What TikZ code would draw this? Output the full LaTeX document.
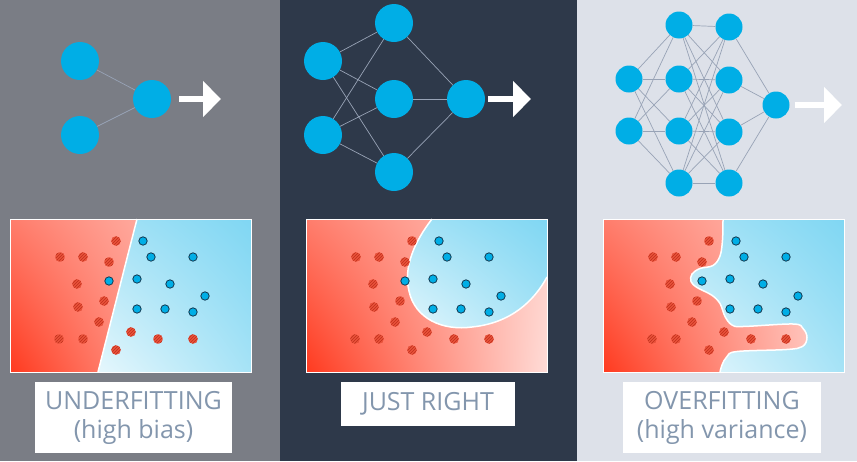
\documentclass[tikz,border=0pt]{standalone}
\usepackage{fontspec}
\setmainfont{Open Sans}
\usetikzlibrary{arrows.meta,patterns,shadings}

\definecolor{fondouno}{HTML}{7A7D85}
\definecolor{fondodos}{HTML}{2E394A}
\definecolor{fondotres}{HTML}{DDE1E9}
\definecolor{celeste}{HTML}{00AEE6}
\definecolor{gris}{HTML}{98A3B6}
\definecolor{rojopunto}{HTML}{EA523B}
\definecolor{rayas}{HTML}{BE301C}
\definecolor{bordeazul}{HTML}{123A52}
\definecolor{texto}{HTML}{8396AD}
\definecolor{rojoa}{HTML}{FF3A1F}
\definecolor{rojob}{HTML}{FF7D6C}
\definecolor{rojoc}{HTML}{FFDCD7}
\definecolor{rojod}{HTML}{FFCFC8}

% Datos de los puntos (relativos a cada recuadro)
\newcommand{\puntosrojos}{106/22, 50/38, 73/38, 99/43, 67/65, 94/82, 68/88, 89/103,
  49/120, 73/120, 121/113, 148/120, 183/120, 106/131}
\newcommand{\puntosazules}{133/22, 141/38, 183/38, 99/62, 127/60, 160/65, 195/77,
  127/90, 155/90, 183/93}
\newcommand{\dibujarpuntos}{%
  \foreach \x/\y in \puntosrojos {
    \fill[rojopunto] (\x,\y) circle (4.8pt);
    \fill[pattern=north east lines, pattern color=rayas] (\x,\y) circle (4.8pt);
  }
  \foreach \x/\y in \puntosazules
    \filldraw[fill=celeste, draw=bordeazul, line width=0.8pt] (\x,\y) circle (4.2pt);
}

\begin{document}
\begin{tikzpicture}[x=1pt,y=-1pt,
% Estilo de las neuronas
neurona/.style={circle, inner sep=0pt, minimum size=38pt, fill=celeste},
neuronachica/.style={neurona, minimum size=27pt},
% Estilo de las conexiones
conexion/.style={draw=gris, line width=0.7pt},
% Estilo de la flecha de salida
salida/.style={-{Triangle[length=18pt,width=35pt]}, line width=6pt, white},
% Estilo de los fondos de los recuadros
zonaroja/.style={lower left=rojoa, upper left=rojob, lower right=rojoc, upper right=rojod},
zonaazul/.style={lower left=celeste!10!white, upper left=celeste!35!white,
  lower right=celeste!35!white, upper right=celeste!50!white},
frontera/.style={white, line width=1.5pt},
% Estilo de las etiquetas
etiqueta/.style={fill=white, text=texto, align=center, inner sep=0pt,
  font=\fontsize{25}{29}\selectfont},
]
\useasboundingbox (0,0) rectangle (857,461);

% Fondos
\fill[fondouno] (0,0) rectangle (280,461);
\fill[fondodos] (280,0) rectangle (577,461);
\fill[fondotres] (577,0) rectangle (857,461);

% Red 1
\node (a1) at (80,61) [neurona]{};
\node (a2) at (80,135) [neurona]{};
\node (as) at (152,99) [neurona]{};
\coordinate (af) at (221,99);
\draw[conexion] (a1) -- (as);
\draw[conexion] (a2) -- (as);
\draw[salida] ([xshift=8pt]as.east) -- (af);

% Red 2
\node (b1) at (323,61) [neurona]{};
\node (b2) at (323,135) [neurona]{};
\node (bh1) at (394,23) [neurona]{};
\node (bh2) at (394,99) [neurona]{};
\node (bh3) at (394,172) [neurona]{};
\node (bs) at (466,99) [neurona]{};
\coordinate (bf) at (531,99);
\foreach \i in {1,2}
  \foreach \j in {1,2,3}
    \draw[conexion] (b\i) -- (bh\j);
\foreach \j in {1,2,3}
  \draw[conexion] (bh\j) -- (bs);
\draw[salida] ([xshift=3pt]bs.east) -- (bf);

% Red 3
\node (c1) at (629,79) [neuronachica]{};
\node (c2) at (629,131) [neuronachica]{};
\foreach \j/\y in {1/25, 2/79, 3/131, 4/183}
  \node (ch\j) at (679,\y) [neuronachica]{};
\foreach \j/\y in {1/27, 2/80, 3/132, 4/183}
  \node (ck\j) at (729,\y) [neuronachica]{};
\node (cs) at (776,105) [neuronachica]{};
\coordinate (cf) at (842,105);
\foreach \i in {1,2}
  \foreach \j in {1,...,4}
    \draw[conexion] (c\i) -- (ch\j);
\foreach \i in {1,...,4}
  \foreach \j in {1,...,4}
    \draw[conexion] (ch\i) -- (ck\j);
\foreach \j in {1,...,4}
  \draw[conexion] (ck\j) -- (cs);
\draw[salida] ([xshift=5pt]cs.east) -- (cf);

% Recuadro 1
\begin{scope}[shift={(10,219)}]
\shade[zonaroja] (0,0) rectangle (241,153);
\shade[zonaazul] (127,0) -- (88,153) -- (241,153) -- (241,0) -- cycle;
\draw[frontera] (127,0) -- (88,153);
\dibujarpuntos
\draw[white, line width=1pt] (0,0) rectangle (241,153);
\end{scope}

% Recuadro 2
\begin{scope}[shift={(306,219)}]
\shade[zonaroja] (0,0) rectangle (241,153);
\shade[zonaazul] (126,0) .. controls (109,22) and (97,48) .. (103,72)
  .. controls (109,100) and (137,112) .. (166,108)
  .. controls (205,104) and (228,82) .. (241,58) -- (241,0) -- cycle;
\draw[frontera] (126,0) .. controls (109,22) and (97,48) .. (103,72)
  .. controls (109,100) and (137,112) .. (166,108)
  .. controls (205,104) and (228,82) .. (241,58);
\dibujarpuntos
\draw[white, line width=1pt] (0,0) rectangle (241,153);
\end{scope}

% Recuadro 3
\begin{scope}[shift={(603,219)}]
\shade[zonaroja] (0,0) rectangle (241,153);
\shade[zonaazul] plot[smooth, tension=0.6] coordinates {(120,0) (119.5,21) (117,37) (110,46.5)
  (97,49.5) (89,55) (88,62.5) (94,68.5) (108.5,76) (117,84.5) (122,97.5) (129,106)
  (140,107.5) (190,105) (200,109.5) (204,118.5) (199.5,127.5) (183.5,130.5) (134,132.5)
  (124,137.5) (119,146) (117,153)} -- (241,153) -- (241,0) -- cycle;
\draw[frontera] plot[smooth, tension=0.6] coordinates {(120,0) (119.5,21) (117,37) (110,46.5)
  (97,49.5) (89,55) (88,62.5) (94,68.5) (108.5,76) (117,84.5) (122,97.5) (129,106)
  (140,107.5) (190,105) (200,109.5) (204,118.5) (199.5,127.5) (183.5,130.5) (134,132.5)
  (124,137.5) (119,146) (117,153)};
\dibujarpuntos
\draw[white, line width=1pt] (0,0) rectangle (241,153);
\end{scope}

% Etiquetas
\node (t1) at (133.5,417.5) [etiqueta, minimum width=197pt, minimum height=71pt]{UNDERFITTING\\(high bias)};
\node (t2) at (428,404) [etiqueta, minimum width=174pt, minimum height=44pt]{JUST RIGHT};
\node (t3) at (722,417.5) [etiqueta, minimum width=198pt, minimum height=71pt]{OVERFITTING\\(high variance)};
\end{tikzpicture}
\end{document}
